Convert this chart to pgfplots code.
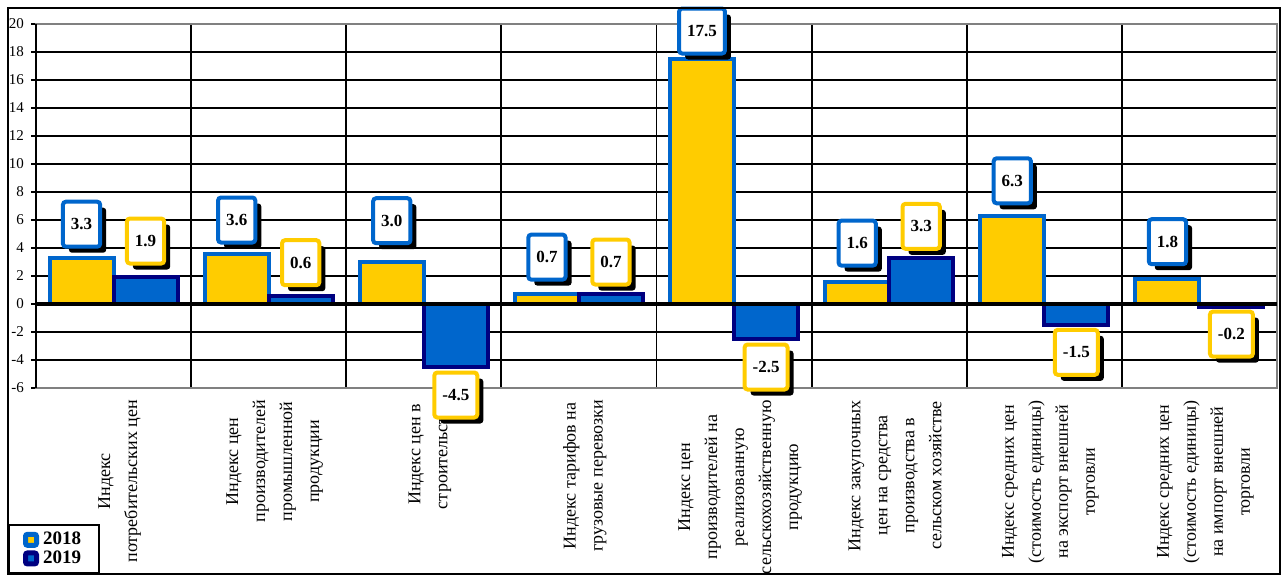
\documentclass[border=0pt]{standalone}
\usepackage{fontspec}
\setmainfont{Liberation Serif}
\usepackage{pgfplots}
\pgfplotsset{compat=1.18}
\usepackage{pgfplotstable}
\usetikzlibrary{shadows}

\definecolor{yel}{HTML}{FFCC00}
\definecolor{blu}{HTML}{0066CC}
\definecolor{nav}{HTML}{000080}

% x: category, v: value, l: height of the value label
\pgfplotstableread{
x v18 l18 v19 l19
0 3.3 5.7 1.9 4.5
1 3.6 6.0 0.6 2.95
2 3.0 5.95 -4.5 -6.5
3 0.7 3.35 0.7 3.0
4 17.5 19.5 -2.5 -4.5
5 1.6 4.35 3.3 5.55
6 6.3 8.8 -1.5 -3.45
7 1.8 4.45 -0.2 -2.15
}\data

\tikzset{
  vallabel/.style={anchor=center, fill=white, draw=#1, line width=2pt,
    rounded corners=1.5pt, text=black,
    font=\fontsize{8.5}{10}\selectfont\bfseries,
    inner xsep=4pt, inner ysep=0pt, minimum width=18pt, minimum height=22.5pt,
    drop shadow={shadow xshift=3pt, shadow yshift=-3pt, fill=black, opacity=1}},
}

\begin{document}
\begin{tikzpicture}
\useasboundingbox (-18pt,-93.5pt) rectangle (623pt,194pt);
\begin{axis}[
  scale only axis, width=620.5pt, height=182pt,
  xmin=-0.5, xmax=7.5, ymin=-6, ymax=20,
  clip=false,
  ytick={-6,-4,...,20},
  xtick={0,...,7},
  minor xtick={-0.5,0.5,...,7.5},
  xticklabels={
    {Индекс\\потребительских цен},
    {Индекс цен\\производителей\\промышленной\\продукции},
    {Индекс цен в\\строительстве},
    {Индекс тарифов на\\грузовые перевозки},
    {Индекс цен\\производителей на\\реализованную\\сельскохозяйственную\\продукцию},
    {Индекс закупочных\\цен на средства\\производства в\\сельском хозяйстве},
    {Индекс средних цен\\(стоимость единицы)\\на экспорт внешней\\торговли},
    {Индекс средних цен\\(стоимость единицы)\\на импорт внешней\\торговли}},
  xticklabel style={rotate=90, anchor=east, align=center,
    font=\fontsize{9}{13.5}\selectfont, yshift=-3pt},
  yticklabel style={font=\fontsize{7.5}{9}\selectfont,
    /pgf/number format/assume math mode=true},
  xtick style={draw=none},
  ytick style={black, line width=0.75pt},
  tick align=outside, ytick pos=left,
  major tick length=2.5pt,
  ymajorgrids, xminorgrids,
  major grid style={black, line width=0.9pt},
  minor grid style={black, line width=0.9pt},
  axis line style={draw=gray, line width=1pt},
  legend style={at={(-0.02256,-0.3736)}, anchor=north west, draw=black,
    line width=1pt, font=\fontsize{9.5}{10}\selectfont\bfseries,
    inner xsep=7pt, inner ysep=1.5pt, row sep=-2.5pt,
    /tikz/every even column/.append style={column sep=1pt}},
  legend cell align=left,
]
\addplot[ybar, bar width=32pt, bar shift=-16pt, fill=yel, draw=blu, line width=2pt,
  legend image code/.code={\draw[fill=yel, draw=blu, line width=2.5pt, rounded corners=1pt] (0pt,-2.75pt) rectangle (5.5pt,2.75pt);}]
  table[x=x, y=v18] {\data};
\addlegendentry{2018}
\addplot[ybar, bar width=32pt, bar shift=16pt, fill=blu, draw=nav, line width=2pt,
  legend image code/.code={\draw[fill=blu, draw=nav, line width=2.5pt, rounded corners=1pt] (0pt,-2.75pt) rectangle (5.5pt,2.75pt);}]
  table[x=x, y=v19] {\data};
\addlegendentry{2019}

\draw[black, line width=1pt] (rel axis cs:0,0) -- (rel axis cs:0,1);
\draw[black, line width=2pt] (axis cs:-0.5,0) -- (axis cs:7.5,0);

\addplot[forget plot, draw=none, mark=none, point meta=\thisrow{v18},
  nodes near coords={\pgfmathprintnumber[fixed, fixed zerofill, precision=1, assume math mode=true]{\pgfplotspointmeta}},
  every node near coord/.append style={vallabel=blu, xshift=-16pt}]
  table[x=x, y=l18] {\data};
\addplot[forget plot, draw=none, mark=none, point meta=\thisrow{v19},
  nodes near coords={\pgfmathprintnumber[fixed, fixed zerofill, precision=1, assume math mode=true]{\pgfplotspointmeta}},
  every node near coord/.append style={vallabel=yel, xshift=16pt}]
  table[x=x, y=l19] {\data};
\end{axis}
\draw[black, line width=1pt] (-14pt,190pt) rectangle (622pt,-93pt);
\end{tikzpicture}
\end{document}
